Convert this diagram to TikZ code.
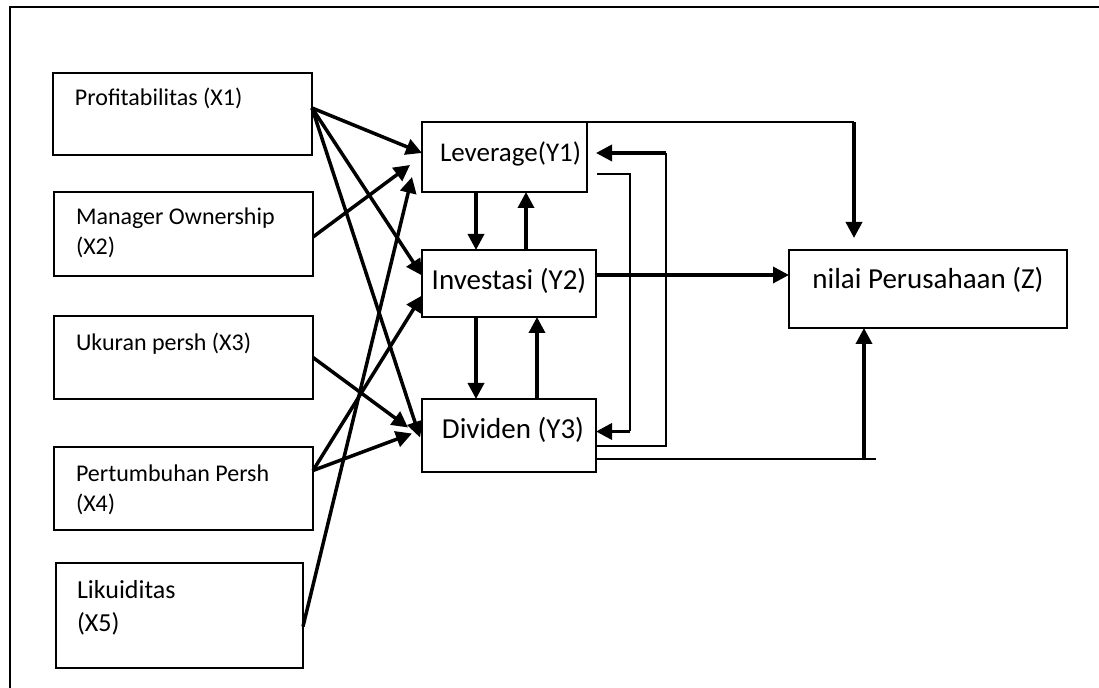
\documentclass[tikz,border=0pt]{standalone}
\usepackage{fontspec}
\setmainfont{Carlito}
\usetikzlibrary{positioning}
\usetikzlibrary{calc}
\usetikzlibrary{arrows.meta}

\begin{document}
\begin{tikzpicture}[x=0.5pt, y=-0.5pt
  , box/.style={ draw, line width=1pt, anchor=north west
               , inner ysep=0pt, outer sep=0pt
               }
  , leftbox/.style={ box, align=flush left, inner xsep=11pt, text width=107.5pt
                   , font=\fontsize{12}{15}\selectfont
                   }
  , midbox/.style={ box, inner xsep=0pt
                  , font=\fontsize{14.5}{17}\selectfont
                  }
  , link/.style={ line width=1pt }
  , arr/.style={ line width=1.75pt, -{Triangle[length=8pt, width=8pt]} }
  ]

  \useasboundingbox (0,0) rectangle (1099,688);
  \draw [line width=1.3pt] (1099,7) -- (10,7) -- (10,688);

  % independent variables
  \node [leftbox, text height=16.5pt, text depth=24.5pt] (profit) at (53,73)
    {Profitabilitas (X1)};
  \node [leftbox, text height=16.5pt, text depth=25.5pt] (owner) at (54,192)
    {Manager Ownership\\(X2)};
  \node [leftbox, text height=17.5pt, text depth=24pt] (ukuran) at (54,316)
    {Ukuran persh (X3)};
  \node [leftbox, text height=17.5pt, text depth=24pt] (tumbuh) at (54,447)
    {Pertumbuhan Persh\\(X4)};
  \node [leftbox, inner xsep=10.5pt, text width=102.5pt
        , font=\fontsize{13}{16.5}\selectfont
        , text height=18pt, text depth=34.5pt] (likuid) at (56,563)
    {Likuiditas\\(X5)};

  % intervening and dependent variables
  \node [midbox, minimum width=82.5pt, font=\fontsize{13.5}{16}\selectfont
        , text height=20pt, text depth=15pt] (leverage) at (422,122)
    {\hspace*{6pt}Leverage(Y1)};
  \node [midbox, minimum width=87pt, text height=20pt, text depth=13.5pt]
    (investasi) at (422,250) {Investasi (Y2)};
  \node [midbox, minimum width=87pt, text height=20pt, text depth=16.5pt]
    (dividen) at (422,399) {\hspace*{4pt}Dividen (Y3)};
  \node [midbox, minimum width=139pt, text height=19.5pt, text depth=19.5pt]
    (nilai) at (789,250) {nilai Perusahaan (Z)};


  \draw [arr] ([yshift=3pt]profit.east) -- ([yshift=2pt]leverage.west);
  \draw [arr] ([yshift=3pt]profit.east) -- ([yshift=4pt]investasi.west);
  \draw [arr] ([yshift=3pt]profit.east) -- ([xshift=-1pt,yshift=-1pt]dividen.west);
  \draw [arr] ([yshift=-1.5pt]owner.east) -- ([xshift=-6pt,yshift=-4pt]leverage.west);
  \draw [arr] (ukuran.east) -- ([xshift=-7pt,yshift=4pt]dividen.west);
  \draw [arr] ([yshift=9pt]tumbuh.east) -- ([yshift=-6pt]investasi.west);
  \draw [arr] ([yshift=9pt]tumbuh.east) -- ([xshift=-5pt,yshift=1pt]dividen.west);
  \draw [arr] ([yshift=-5.5pt]likuid.east) -- ([xshift=-5pt,yshift=-10pt]leverage.west);

  \draw [arr] ([xshift=-14.25pt]leverage.south) -- ([xshift=-14.25pt]leverage.south |- investasi.north);
  \draw [arr] ([xshift=8.5pt]investasi.north) -- ([xshift=8.5pt]investasi.north |- leverage.south);
  \draw [arr] ([xshift=-16.5pt]investasi.south) -- ([xshift=-16.5pt]investasi.south |- dividen.north);
  \draw [arr] ([xshift=14pt]dividen.north) -- ([xshift=14pt]dividen.north |- investasi.south);

  % feedback between leverage and dividen
  \coordinate (a1) at ([xshift=17pt,yshift=2pt]dividen.east);
  \draw [link] ([xshift=5pt,yshift=-8.5pt]leverage.east) -| (a1);
  \draw [arr] (a1) -- ([yshift=2pt]dividen.east);

  \coordinate (b1) at ([xshift=39.5pt,yshift=2pt]leverage.east);
  \draw [link] ([yshift=-5.25pt]dividen.east) -| (b1);
  \draw [arr] (b1) -- ([xshift=4.5pt,yshift=2pt]leverage.east);

  % into nilai
  \coordinate (c0) at ([xshift=-37pt,yshift=6pt]nilai.north);
  \coordinate (c1) at (c0 |- leverage.north east);
  \draw [link] (leverage.north east) -- (c1);
  \draw [arr] (c1) -- (c0);

  \coordinate (d0) at ([yshift=4.25pt]investasi.east);
  \draw [arr] (d0) -- (d0 -| nilai.west);

  \coordinate (e0) at ([yshift=-11.75pt]dividen.east);
  \coordinate (e1) at ([xshift=-32pt]nilai.south);
  \coordinate (e2) at (e1 |- e0);
  \draw [link] (e0) -- ([xshift=6pt]e2);
  \draw [arr] (e2) -- (e1);

\end{tikzpicture}
\end{document}
